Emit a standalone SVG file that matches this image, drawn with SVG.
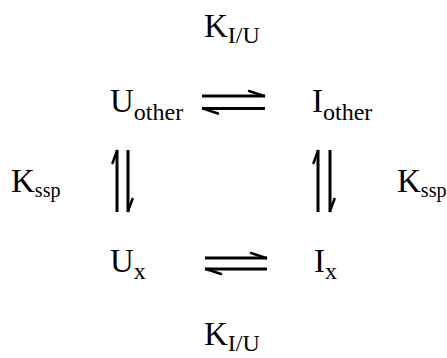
<svg xmlns="http://www.w3.org/2000/svg" width="447" height="358" viewBox="0 0 447 358">
<style>
.t{font-family:"Liberation Serif","Times New Roman",serif;font-size:33px;fill:#000}
.s{font-size:24px}
.ss{font-size:20px}
.a{stroke:#000;stroke-width:3;fill:none;stroke-linecap:butt}
.b{stroke:#000;stroke-width:2.5;fill:none;stroke-linecap:round}
</style>
<rect width="447" height="358" fill="#fff"/>
<g id="U_other"><text class="t" x="110" y="112">U<tspan class="s" dy="8">other</tspan></text></g>
<g id="I_other"><text class="t" x="312" y="112">I<tspan class="s" dy="8">other</tspan></text></g>
<g id="U_x"><text class="t" x="110" y="272">U<tspan class="s" dy="7">x</tspan></text></g>
<g id="I_x"><text class="t" x="314" y="272">I<tspan class="s" dy="7">x</tspan></text></g>
<g id="K_IU_top"><text class="t" x="204" y="37">K<tspan class="s" dy="6">I/U</tspan></text></g>
<g id="K_IU_bottom"><text class="t" x="204" y="345">K<tspan class="s" dy="6">I/U</tspan></text></g>
<g id="K_ssp_left"><text class="t" x="11" y="192">K<tspan class="ss" dy="5">ssp</tspan></text></g>
<g id="K_ssp_right"><text class="t" x="397" y="192">K<tspan class="ss" dy="5">ssp</tspan></text></g>
<g id="connectors">
<path class="a" d="M202 96H265M202 108.5H265"/>
<path class="b" d="M264 96L249 91M203 108.5L218 113.5"/>
<path class="a" d="M205 258H267M205 269H267"/>
<path class="b" d="M266 258L251 253M206 269L221 274"/>
<path class="a" d="M117 150V212M128 150V212"/>
<path class="b" d="M117 151L112.5 163M128 211L132.5 199"/>
<path class="a" d="M318 150V212M330 150V212"/>
<path class="b" d="M318 151L313.5 163M330 211L334.5 199"/>
</g>
</svg>
